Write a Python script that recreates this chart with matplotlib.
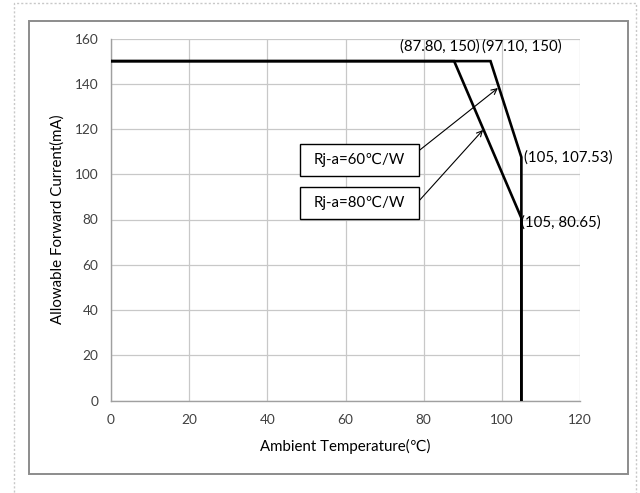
"""
derating curve: allowable forward current vs ambient temperature
"""

import matplotlib
matplotlib.use("Agg")
import matplotlib.pyplot as plt
from matplotlib.patches import Rectangle

plt.rcParams["font.family"] = ["Lato", "DejaVu Sans"]

# derating curves for the two thermal resistances
# --------------------------
temp_60 = [0, 97.10, 105, 105]
current_60 = [150, 150, 107.53, 0]

temp_80 = [0, 87.80, 105, 105]
current_80 = [150, 150, 80.65, 0]

x_ticks = [0, 20, 40, 60, 80, 100, 120]
y_ticks = [0, 20, 40, 60, 80, 100, 120, 140, 160]

point_labels = ["(87.80, 150)", "(97.10, 150)", "(105, 107.53)", "(105, 80.65)"]
box_labels = ["Rj-a=60\u2103/W", "Rj-a=80\u2103/W"]

# figure and frame
# --------------------------
fig = plt.figure(figsize=(6.4, 4.93), dpi=100)

# dotted outer border
fig.add_artist(Rectangle((14 / 640, -0.01), (636 - 14) / 640, 1 - 3 / 493 + 0.01,
                         transform=fig.transFigure, fill=False,
                         edgecolor="#c8c8c8", linewidth=1.0, linestyle=(0, (1.5, 1.5))))
# chart frame
fig.add_artist(Rectangle((29 / 640, 1 - 474 / 493), (628 - 29) / 640, (474 - 21) / 493,
                         transform=fig.transFigure, fill=False,
                         edgecolor="#8c8c8c", linewidth=1.4))

ax = fig.add_axes([111 / 640, 1 - 400.5 / 493, (580 - 111) / 640, (400.5 - 38.5) / 493])

ax.plot(temp_60, current_60, color="black", linewidth=1.9, solid_joinstyle="miter", zorder=3)
ax.plot(temp_80, current_80, color="black", linewidth=1.9, solid_joinstyle="miter", zorder=3)

ax.set_xlim(0, 120)
ax.set_ylim(0, 160)
ax.set_xticks(x_ticks)
ax.set_yticks(y_ticks)
ax.grid(True, color="#c8c8c8", linewidth=0.9)
ax.set_axisbelow(True)
ax.tick_params(length=0, labelsize=9.8, colors="#404040", pad=9)
ax.tick_params(axis="x", pad=10)

for side in ["top", "right"]:
    ax.spines[side].set_visible(False)
for side in ["left", "bottom"]:
    ax.spines[side].set_color("#a0a0a0")
    ax.spines[side].set_linewidth(1.0)

ax.set_xlabel("Ambient Temperature(\u2103)", fontsize=10.8, labelpad=9)
ax.set_ylabel("Allowable Forward Current(mA)", fontsize=10.8, labelpad=7)

# point labels
# --------------------------
ax.text(84.2, 156.6, point_labels[0], ha="center", va="center", fontsize=10.8)
ax.text(105.2, 156.6, point_labels[1], ha="center", va="center", fontsize=10.8)
ax.text(105.7, 107.6, point_labels[2], ha="left", va="center", fontsize=10.8)
ax.text(104.9, 78.5, point_labels[3], ha="left", va="center", fontsize=10.8)

# labelled boxes with arrows to each curve
# --------------------------
box_w, box_h = 30.6, 14.1
for label, cy in zip(box_labels, [106.3, 87.3]):
    ax.add_patch(Rectangle((63.6 - box_w / 2, cy - box_h / 2), box_w, box_h,
                           facecolor="white", edgecolor="black", linewidth=1.0, zorder=4))
    ax.text(63.6, cy, label, ha="center", va="center", fontsize=10.8, zorder=5)

ax.annotate("", xy=(99.0, 138.1), xytext=(79.0, 110.7),
            arrowprops=dict(arrowstyle="->", color="black", linewidth=0.8, shrinkA=0, shrinkB=0),
            zorder=4)
ax.annotate("", xy=(95.2, 119.6), xytext=(79.0, 88.6),
            arrowprops=dict(arrowstyle="->", color="black", linewidth=0.8, shrinkA=0, shrinkB=0),
            zorder=4)

fig.savefig("out.png", dpi=100)
